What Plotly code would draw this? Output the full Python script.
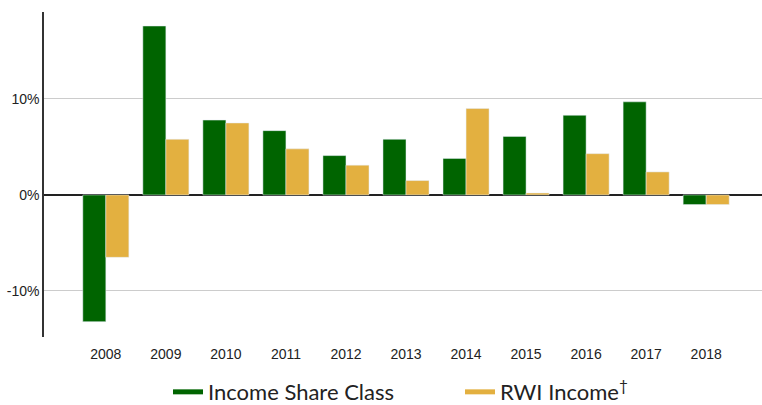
import plotly.graph_objects as go

years = ["2008", "2009", "2010", "2011", "2012", "2013", "2014", "2015", "2016", "2017", "2018"]
income_share_class = [-13.2, 17.6, 7.8, 6.7, 4.1, 5.8, 3.8, 6.1, 8.3, 9.7, -1.0]
rwi_income = [-6.5, 5.8, 7.5, 4.8, 3.1, 1.5, 9.0, 0.2, 4.3, 2.4, -1.0]
ytick_vals = [-10, 0, 10]
ytick_text = ["-10%", "0%", "10%"]

GREEN = "#006400"
GOLD = "#E3B040"

fig = go.Figure()
fig.add_trace(go.Bar(x=years, y=income_share_class, marker_color=GREEN, showlegend=False,
                     name="Income Share Class"))
fig.add_trace(go.Bar(x=years, y=rwi_income, marker_color=GOLD, showlegend=False,
                     name="RWI Income"))
# legend entries
fig.add_trace(go.Scatter(x=[None], y=[None], mode="lines", line=dict(color=GREEN, width=5),
                         name="Income Share Class"))
fig.add_trace(go.Scatter(x=[None], y=[None], mode="lines", line=dict(color=GOLD, width=5),
                         name="RWI Income<sup>†</sup>"))

fig.update_layout(
    width=762, height=405,
    margin=dict(l=44, r=0, t=12, b=68, autoexpand=False),
    plot_bgcolor="white", paper_bgcolor="white",
    barmode="group", bargap=0.233, bargroupgap=0,
    font=dict(family="Liberation Sans, Arial", size=14, color="#222"),
    xaxis=dict(type="category", range=[-1.03, 10.93], showgrid=False,
               ticks="outside", ticklen=4, tickcolor="rgba(0,0,0,0)",
               tickfont=dict(size=14, color="#222"), showline=False, zeroline=False,
               automargin=False),
    yaxis=dict(range=[-14.8, 19.06], tickvals=ytick_vals, ticktext=ytick_text,
               showgrid=True, gridcolor="#cccccc", gridwidth=1,
               zeroline=True, zerolinecolor="#222", zerolinewidth=1.5,
               showline=True, linecolor="#333", linewidth=1.5,
               ticks="", tickfont=dict(size=14, color="#222"), automargin=False),
    legend=dict(orientation="h", xref="container", yref="container",
                x=0.2205, xanchor="left", y=0.032, yanchor="middle",
                font=dict(family="Lato, Carlito, Open Sans", size=22, color="#222"),
                entrywidth=247, entrywidthmode="pixels", itemwidth=30),
)

fig.write_html("out.html", config={"displayModeBar": False},
               post_script="document.body.style.margin='0px';")
